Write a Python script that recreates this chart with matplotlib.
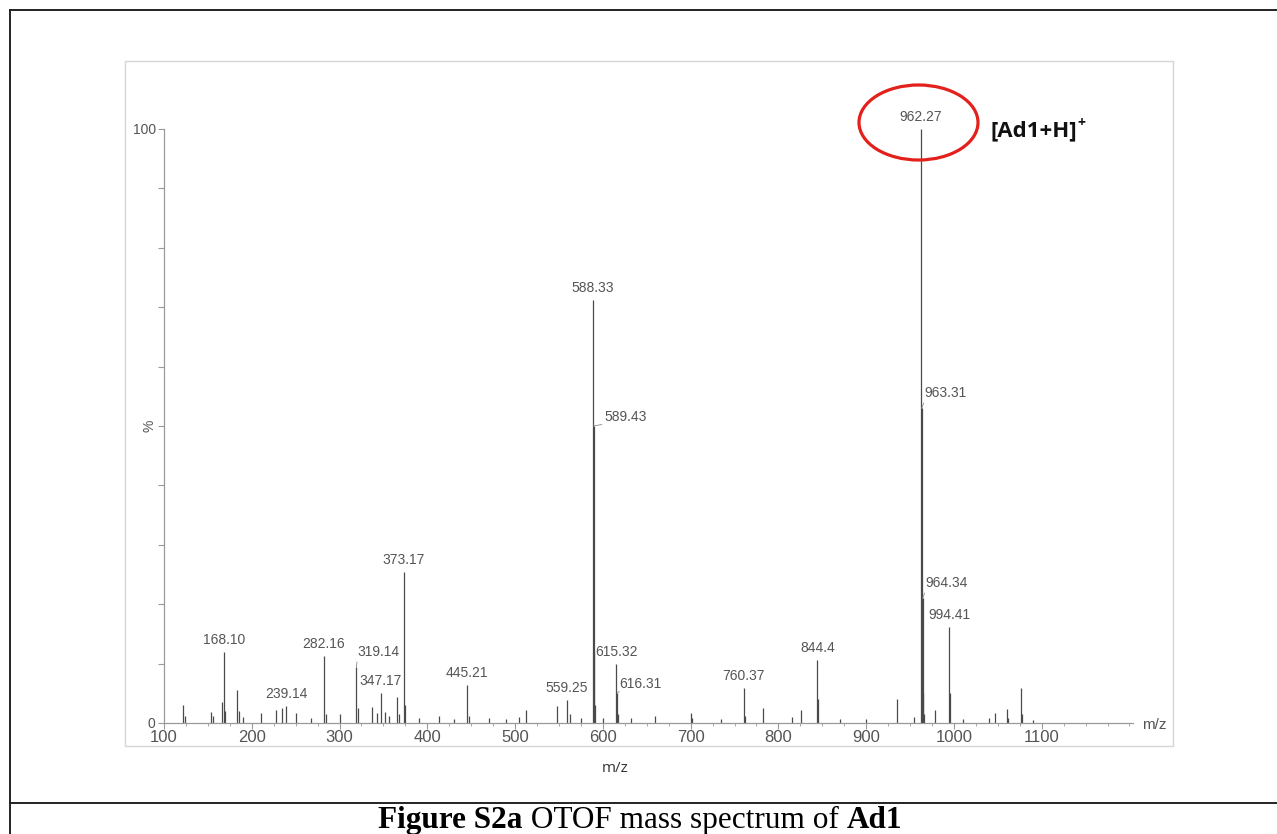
import matplotlib.pyplot as plt
from matplotlib.patches import Ellipse, Rectangle
from matplotlib.lines import Line2D

W, H = 1277, 834

# m/z and relative intensity (%) of each stick in the spectrum
peak_mz = [
    122, 124, 153, 156, 166, 168.10, 170, 183, 185, 190, 210, 228, 235,
    239.14, 250, 268, 282.16, 284, 300, 319.14, 321, 337, 343, 347.17, 352,
    356, 365, 368, 373.17, 375, 390, 413, 430, 445.21, 447, 470, 490, 505,
    512, 548, 559.25, 563, 575, 588.33, 589.43, 590.4, 591.4, 600, 615.32,
    616.31, 617.3, 632, 659, 700, 702, 735, 760.37, 762, 782, 815, 826,
    844.4, 845.4, 870, 900, 935, 955, 962.27, 963.31, 964.34, 965.3, 966.3,
    978, 994.41, 995.4, 1010, 1040, 1047, 1060, 1062, 1076, 1078, 1090,
]
peak_int = [
    3.0, 1.2, 1.8, 1.2, 3.5, 12.0, 2.0, 5.5, 2.0, 1.0, 1.6, 2.2, 2.6,
    2.8, 1.6, 0.8, 11.3, 1.5, 1.5, 9.4, 2.5, 2.7, 1.6, 5.0, 1.8,
    1.2, 4.4, 1.5, 25.4, 3.0, 0.8, 1.1, 0.7, 6.4, 1.2, 0.8, 0.6, 1.0,
    2.2, 2.8, 3.9, 1.5, 0.8, 71.2, 50.0, 12.0, 3.0, 0.8, 10.0,
    5.0, 1.5, 0.8, 1.2, 1.6, 0.8, 0.6, 5.9, 1.2, 2.5, 1.0, 2.2,
    10.6, 4.0, 0.6, 0.6, 4.0, 1.0, 100.0, 53.0, 21.0, 5.0, 1.5,
    2.2, 16.2, 5.0, 0.6, 0.9, 1.6, 2.3, 0.8, 5.9, 1.5, 0.5,
]

# peaks annotated with their m/z value
peak_labels = [
    "168.10", "239.14", "282.16", "319.14", "347.17", "373.17", "445.21",
    "559.25", "588.33", "589.43", "615.32", "616.31", "760.37", "844.4",
    "962.27", "963.31", "964.34", "994.41",
]

x_ticks = [100, 200, 300, 400, 500, 600, 700, 800, 900, 1000, 1100]
y_ticks = [0, 10, 20, 30, 40, 50, 60, 70, 80, 90, 100]
ion_name = "[Ad1+H]"
caption = [("Figure S2a", "bold"), (" OTOF mass spectrum of ", "normal"), ("Ad1", "bold")]

GREY_TXT = "#555555"
GREY_AX = "#9a9a9a"
STICK = "#4a4a4a"


def fx(x):
    return x / W


def fy(y):
    return 1 - y / H


def draw_runs(fig, x_px, y_px, runs, family, size, color, ha="left"):
    # place text pieces one after another on a common baseline
    renderer = fig.canvas.get_renderer()
    texts = []
    for s, weight in runs:
        t = fig.text(0, fy(y_px), s, fontsize=size, fontweight=weight,
                     family=family, color=color, va="baseline")
        texts.append(t)
    widths = [t.get_window_extent(renderer).width for t in texts]
    total = sum(widths)
    x = x_px - total / 2 if ha == "center" else x_px
    for t, w in zip(texts, widths):
        t.set_x(fx(x))
        x += w
    return x


def main():
    fig = plt.figure(figsize=(W / 100, H / 100), dpi=100)

    # document table lines and the light border of the scanned plot
    frame = dict(color="#222222", lw=1.4, transform=fig.transFigure)
    fig.add_artist(Line2D([fx(9.5), fx(9.5)], [fy(9.5), fy(834)], **frame))
    fig.add_artist(Line2D([fx(9.5), fx(1277)], [fy(9.5), fy(9.5)], **frame))
    fig.add_artist(Line2D([fx(9.5), fx(1277)], [fy(803), fy(803)], **frame))
    fig.add_artist(Rectangle((fx(125), fy(746)), fx(1173) - fx(125), fy(61) - fy(746),
                             transform=fig.transFigure, fill=False,
                             edgecolor="#d6d6d6", lw=1.0))

    ax = fig.add_axes([fx(164), fy(723), fx(1133) - fx(164), fy(129) - fy(723)])
    ax.set_xlim(100, 1204)
    ax.set_ylim(0, 100)
    ax.patch.set_alpha(0)

    ax.vlines(peak_mz, 0, peak_int, color=STICK, lw=0.9)

    for sp in ("top", "right"):
        ax.spines[sp].set_visible(False)
    for sp in ("left", "bottom"):
        ax.spines[sp].set_color(GREY_AX)
        ax.spines[sp].set_linewidth(0.9)

    ax.set_xticks(x_ticks)
    ax.set_xticks(range(100, 1201, 25), minor=True)
    ax.tick_params(axis="x", which="major", length=4, width=0.8, color=GREY_AX,
                   labelsize=12, labelcolor=GREY_TXT, pad=1)
    ax.tick_params(axis="x", which="minor", length=2, width=0.6, color=GREY_AX)
    ax.set_yticks(y_ticks)
    ax.set_yticklabels(["0"] + [""] * 9 + ["100"])
    ax.tick_params(axis="y", length=4, width=0.8, color=GREY_AX,
                   labelsize=10, labelcolor=GREY_TXT, pad=2)
    for t in ax.get_xticklabels() + ax.get_yticklabels():
        t.set_family("Liberation Sans")

    ax.annotate("%", xy=(0, 50), xycoords=("axes fraction", "data"),
                xytext=(-14, 0), textcoords="offset pixels", rotation=90,
                ha="center", va="center", fontsize=10, color=GREY_TXT,
                family="Liberation Sans")
    ax.annotate("m/z", xy=(1, 0), xycoords="axes fraction",
                xytext=(9, -2), textcoords="offset pixels", ha="left",
                va="center", fontsize=11, color=GREY_TXT, family="Liberation Sans")

    # labels with a short leader line: offsets in pixels from the stick top
    leaders = {"589.43": (11, 9), "963.31": (3, 15), "964.34": (3, 15),
               "616.31": (2, 9), "319.14": (1, 15)}
    for lab in peak_labels:
        mz = float(lab)
        h = peak_int[peak_mz.index(mz)]
        style = dict(fontsize=10, color=GREY_TXT, family="Liberation Sans",
                     textcoords="offset pixels", annotation_clip=False)
        if lab in leaders:
            ax.annotate(lab, xy=(mz, h), xytext=leaders[lab], ha="left",
                        va="center",
                        arrowprops=dict(arrowstyle="-", lw=0.6, color="#8a8a8a",
                                        shrinkA=0, shrinkB=0, relpos=(0, 0)),
                        **style)
        else:
            ax.annotate(lab, xy=(mz, h), xytext=(0, 5), ha="center",
                        va="bottom", **style)

    # highlighted molecular ion
    fig.add_artist(Ellipse((fx(918.5), fy(122.5)), fx(119), 75 / H,
                           transform=fig.transFigure, fill=False,
                           edgecolor="#e3201b", lw=2.3))
    x_end = draw_runs(fig, 990, 136, [(ion_name, "bold")], "Open Sans", 16, "#111111")
    fig.text(fx(x_end + 1), fy(127), "+", fontsize=10, fontweight="bold",
             family="Open Sans", color="#111111", va="baseline")

    fig.text(fx(615), fy(768), "m/z", fontsize=11, family="Open Sans",
             color="#333333", ha="center", va="center")

    draw_runs(fig, 640, 828, caption, "Liberation Serif", 22.5, "#000000", ha="center")

    fig.savefig("out.png", dpi=100)


if __name__ == "__main__":
    main()
